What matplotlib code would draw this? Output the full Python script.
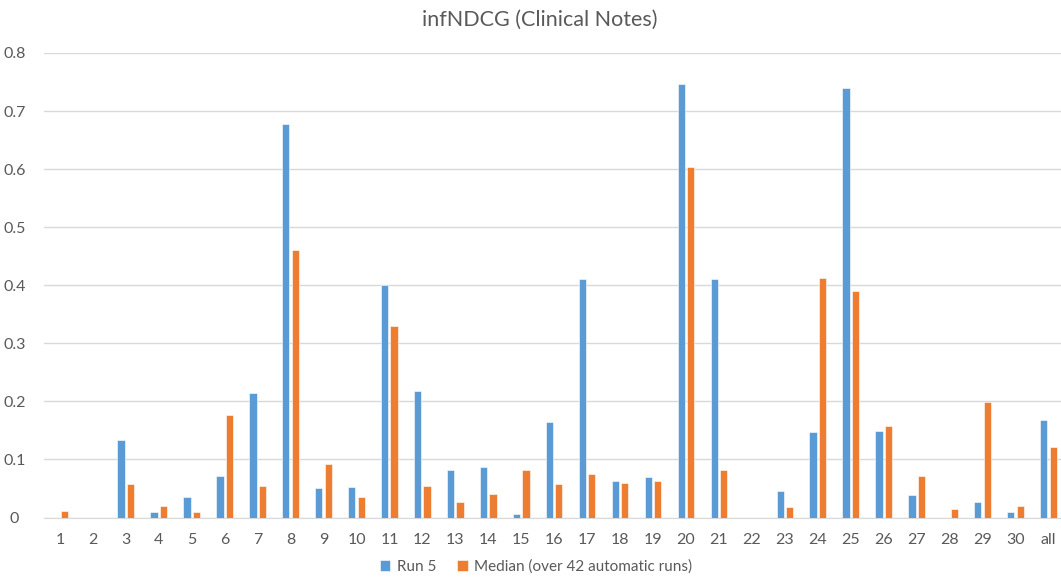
import matplotlib
matplotlib.use("Agg")
import matplotlib.pyplot as plt
import numpy as np

categories = [str(i) for i in range(1, 31)] + ["all"]
run5 = [0, 0, 0.133, 0.009, 0.036, 0.072, 0.215, 0.677, 0.050, 0.053,
        0.400, 0.218, 0.081, 0.087, 0.006, 0.165, 0.410, 0.063, 0.069, 0.747,
        0.410, 0, 0.046, 0.147, 0.740, 0.149, 0.039, 0, 0.027, 0.010, 0.168]
median = [0.011, 0, 0.057, 0.020, 0.010, 0.176, 0.054, 0.460, 0.093, 0.035,
          0.330, 0.054, 0.027, 0.041, 0.082, 0.058, 0.075, 0.059, 0.063, 0.603,
          0.081, 0, 0.018, 0.412, 0.390, 0.158, 0.072, 0.015, 0.199, 0.020, 0.122]
yticks = [0, 0.1, 0.2, 0.3, 0.4, 0.5, 0.6, 0.7, 0.8]
ytick_labels = ["0", "0.1", "0.2", "0.3", "0.4", "0.5", "0.6", "0.7", "0.8"]

plt.rcParams['font.family'] = ['Lato', 'DejaVu Sans']
fig = plt.figure(figsize=(10.61, 5.81), dpi=100)
ax = fig.add_axes([43.5/1061, 63.5/581, 1021.5/1061, 464.5/581])

x = np.arange(len(categories))
w = 0.22
ax.bar(x - 0.145, run5, w, color='#5B9BD5', edgecolor='white', linewidth=0.4, label='Run 5', zorder=3)
ax.bar(x + 0.14, median, w, color='#ED7D31', edgecolor='white', linewidth=0.4,
       label='Median (over 42 automatic runs)', zorder=3)

ax.set_xlim(-0.5, len(categories) - 0.5)
ax.set_ylim(0, 0.8)
ax.set_yticks(yticks)
ax.set_yticklabels(ytick_labels)
ax.set_xticks(x)
ax.set_xticklabels(categories)
ax.yaxis.grid(True, color='#d9d9d9', linewidth=1, zorder=0)
ax.set_axisbelow(True)
for s in ['top', 'right', 'left']:
    ax.spines[s].set_visible(False)
ax.spines['bottom'].set_color('#d9d9d9')
ax.tick_params(axis='both', length=0, labelsize=11.5, colors='#595959')
ax.tick_params(axis='x', pad=11)
ax.tick_params(axis='y', pad=21)
for lab in ax.get_yticklabels():
    lab.set_horizontalalignment('center')

fig.text(540/1061, 1 - 20/581, 'infNDCG (Clinical Notes)', ha='center', va='center',
         fontsize=15.5, color='#595959')
leg = fig.legend(loc='center', bbox_to_anchor=(536/1061, 1 - 567/581), ncol=2, frameon=False,
                 fontsize=11, handlelength=0.7, handleheight=0.7, columnspacing=1.4,
                 handletextpad=0.4)
for t in leg.get_texts():
    t.set_color('#595959')

fig.savefig('out.png', dpi=100)
